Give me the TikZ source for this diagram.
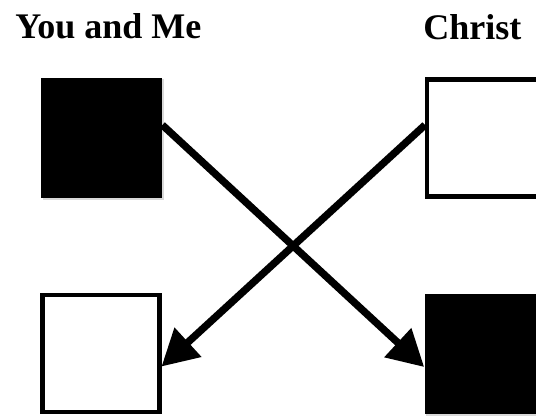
\documentclass[tikz,border=0pt]{standalone}
\usepackage{fontspec}
\setmainfont{Liberation Serif}
\usetikzlibrary{arrows.meta}
\usetikzlibrary{shadows}

\begin{document}
\begin{tikzpicture}[x=0.02cm,y=-0.02cm,
    sqblack/.style={fill=black, minimum size=2.42cm, inner sep=0pt,
        drop shadow={opacity=0.3,shadow xshift=1pt,shadow yshift=-1pt}},
    sqwhite/.style={draw=black, fill=white, line width=2.3pt, minimum size=2.34cm, inner sep=0pt,
        drop shadow={opacity=0.3,shadow xshift=1pt,shadow yshift=-1pt}},
    crossarrow/.style={line width=4.2pt, -{Triangle[length=0.72cm,width=0.76cm]},
        preaction={draw=black!25, transform canvas={shift={(0.8pt,-1.2pt)}}}},
    heading/.style={font=\fontsize{20.5}{24}\selectfont\bfseries, anchor=base west, inner sep=0pt}]
    \clip (0,0) rectangle (536,419);
    \node[heading] (you) at (15,38) {You and Me};
    \node[heading] (christ) at (423,39) {Christ};
    % squares
    \node[sqblack] (ym) at (101.5,138) {};
    \node[sqwhite] (chr) at (485.5,138) {};
    \node[sqwhite] (yb) at (101,353.5) {};
    \node[sqblack] (cb) at (485,354) {};
    % the exchange
    \draw[crossarrow] ([yshift=7.4pt]ym.east) -- ([yshift=-7.4pt]cb.west);
    \draw[crossarrow] ([yshift=7.4pt]chr.west) -- ([yshift=-7.4pt]yb.east);
\end{tikzpicture}
\end{document}
